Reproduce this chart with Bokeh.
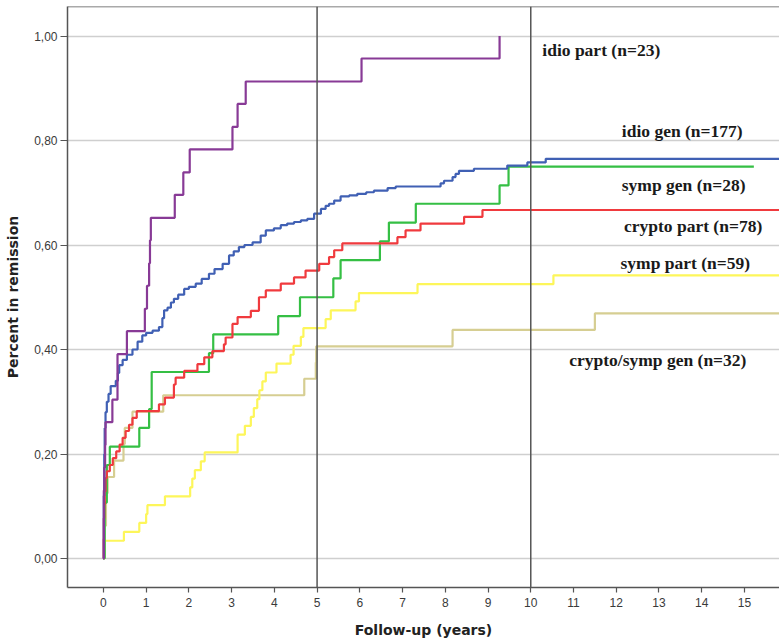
from bokeh.plotting import figure
from bokeh.models import (Range1d, FixedTicker, CustomJSTickFormatter, Span, Label)
from bokeh.embed import file_html
from bokeh.resources import INLINE

# ---------------- data (Kaplan-Meier style cumulative remission) ----------------
x_ticks = list(range(0, 16))
y_ticks = [0.0, 0.2, 0.4, 0.6, 0.8, 1.0]
x_end = 15.82

idio_part_t = [0, 0.01, 0.02, 0.04, 0.05, 0.21, 0.33, 0.55, 0.97, 1.02, 1.07, 1.09, 1.11,
               1.67, 1.87, 2.02, 3.02, 3.14, 3.33, 6.04, 9.27, 9.27]
idio_part_y = [0, 0.130, 0.174, 0.217, 0.261, 0.304, 0.391, 0.435, 0.478, 0.522, 0.565, 0.609, 0.652,
               0.696, 0.739, 0.783, 0.826, 0.870, 0.913, 0.957, 1.0, 1.0]

idio_gen_t = [0, 0.01, 0.02, 0.03, 0.05, 0.08, 0.12, 0.17, 0.29, 0.34, 0.37, 0.45, 0.55, 0.68,
              0.80, 0.91, 1.00, 1.15, 1.30, 1.38, 1.42, 1.50, 1.58, 1.65, 1.75, 1.89, 2.00,
              2.16, 2.30, 2.47, 2.60, 2.79, 2.94, 3.05, 3.17, 3.30, 3.49, 3.68, 3.80, 3.99,
              4.15, 4.30, 4.46, 4.62, 4.77, 4.93, 5.09, 5.20, 5.28, 5.40, 5.55, 5.75, 5.94,
              6.15, 6.33, 6.65, 6.84, 7.89, 7.97, 8.17, 8.24, 8.32, 8.67, 9.45, 9.92, 10.35, x_end]
idio_gen_y = [0, 0.12, 0.20, 0.25, 0.28, 0.30, 0.315, 0.33, 0.34, 0.355, 0.37, 0.38, 0.39, 0.40,
              0.415, 0.427, 0.432, 0.436, 0.443, 0.46, 0.475, 0.48, 0.49, 0.497, 0.505, 0.516, 0.52,
              0.526, 0.535, 0.545, 0.554, 0.564, 0.58, 0.588, 0.596, 0.60, 0.605, 0.618, 0.628, 0.632,
              0.638, 0.641, 0.644, 0.647, 0.65, 0.66, 0.669, 0.675, 0.679, 0.685, 0.693, 0.695, 0.698,
              0.701, 0.704, 0.709, 0.712, 0.718, 0.723, 0.730, 0.736, 0.742, 0.746, 0.752, 0.758, 0.765, 0.765]

symp_gen_t = [0, 0.03, 0.08, 0.15, 0.84, 1.07, 1.13, 2.47, 2.57, 4.09, 4.60, 5.38, 5.55,
              6.47, 6.68, 7.31, 9.27, 9.48, 15.22]
symp_gen_y = [0, 0.107, 0.179, 0.214, 0.25, 0.286, 0.357, 0.393, 0.429, 0.464, 0.50, 0.536, 0.571,
              0.607, 0.643, 0.679, 0.714, 0.75, 0.75]

crypto_part_t = [0, 0.005, 0.01, 0.02, 0.03, 0.05, 0.08, 0.15, 0.22, 0.30, 0.38, 0.45, 0.52,
                 0.60, 0.68, 0.78, 1.30, 1.44, 1.65, 1.69, 1.89, 2.20, 2.36, 2.55, 2.82, 2.86,
                 3.02, 3.14, 3.45, 3.64, 3.80, 4.15, 4.46, 4.73, 5.05, 5.28, 5.40, 5.59, 6.88,
                 7.07, 7.42, 8.44, 8.87, x_end]
crypto_part_y = [0, 0.038, 0.077, 0.103, 0.128, 0.154, 0.167, 0.179, 0.192, 0.205, 0.218, 0.231, 0.244,
                 0.256, 0.269, 0.282, 0.295, 0.308, 0.333, 0.346, 0.359, 0.372, 0.385, 0.397, 0.410, 0.423,
                 0.449, 0.462, 0.474, 0.500, 0.513, 0.526, 0.538, 0.551, 0.564, 0.577, 0.590, 0.603, 0.615,
                 0.628, 0.641, 0.654, 0.667, 0.667]

symp_part_t = [0, 0.02, 0.48, 0.84, 1.0, 1.03, 1.44, 2.03, 2.08, 2.14, 2.28, 2.37, 3.14, 3.31,
               3.45, 3.52, 3.60, 3.65, 3.72, 3.80, 4.05, 4.38, 4.45, 4.62, 4.68, 5.20, 5.32,
               5.90, 5.98, 7.35, 10.53, x_end]
symp_part_y = [0, 0.034, 0.051, 0.068, 0.085, 0.102, 0.119, 0.136, 0.153, 0.169, 0.186, 0.203, 0.237, 0.254,
               0.271, 0.288, 0.305, 0.322, 0.339, 0.356, 0.373, 0.390, 0.407, 0.424, 0.441, 0.458, 0.475,
               0.492, 0.508, 0.525, 0.542, 0.542]

crypto_symp_t = [0, 0.03, 0.06, 0.10, 0.25, 0.47, 0.50, 0.68, 1.40, 4.70, 4.97, 4.98, 8.17, 11.5, x_end]
crypto_symp_y = [0, 0.0625, 0.125, 0.156, 0.1875, 0.219, 0.25, 0.281, 0.3125, 0.344, 0.375, 0.406,
                 0.4375, 0.469, 0.469]

series = [
    ("crypto/symp gen (n=32)", crypto_symp_t, crypto_symp_y, "#d6ce92", 10.90, 0.380),
    ("symp part (n=59)", symp_part_t, symp_part_y, "#fdf65a", 12.10, 0.566),
    ("symp gen (n=28)", symp_gen_t, symp_gen_y, "#35bf44", 12.13, 0.714),
    ("crypto part (n=78)", crypto_part_t, crypto_part_y, "#f03a3e", 12.18, 0.637),
    ("idio gen (n=177)", idio_gen_t, idio_gen_y, "#4060b4", 12.13, 0.819),
    ("idio part (n=23)", idio_part_t, idio_part_y, "#883a96", 10.27, 0.9736),
]

# ---------------- figure ----------------
p = figure(width=779, height=643, output_backend="svg", toolbar_location=None,
           x_range=Range1d(-0.84, 15.82), y_range=Range1d(-0.0555, 1.0565),
           min_border_left=67, min_border_right=0, min_border_top=6, min_border_bottom=56)
p.outline_line_color = None
p.background_fill_color = "white"
p.border_fill_color = "white"

p.xgrid.grid_line_color = None
p.ygrid.grid_line_color = "#cfcfcf"
p.ygrid.grid_line_width = 1.5

for ax in (p.xaxis[0], p.yaxis[0]):
    ax.axis_line_color = "#555555"
    ax.axis_line_width = 1.5
    ax.major_tick_line_color = "#555555"
    ax.major_tick_line_width = 1.2
    ax.minor_tick_line_color = None
    ax.major_tick_in = 0
    ax.major_label_text_font = "Liberation Sans"
    ax.major_label_text_font_size = "12px"
    ax.major_label_text_color = "#3a3a3a"
    ax.axis_label_text_font = "DejaVu Sans"
    ax.axis_label_text_font_style = "bold"
    ax.axis_label_text_font_size = "14px"
    ax.axis_label_text_color = "#222222"

p.xaxis.ticker = FixedTicker(ticks=x_ticks)
p.xaxis.major_tick_out = 5
p.xaxis.major_label_standoff = 5
p.xaxis.axis_label = "Follow-up (years)"
p.xaxis.axis_label_standoff = 12

p.yaxis.ticker = FixedTicker(ticks=y_ticks)
p.yaxis.formatter = CustomJSTickFormatter(code="return tick.toFixed(2).replace('.', ',');")
p.yaxis.major_tick_out = 7
p.yaxis.major_label_standoff = 3
p.yaxis.axis_label = "Percent in remission"
p.yaxis.axis_label_standoff = 10

# frame top border and reference verticals
p.add_layout(Span(location=1.0565, dimension="width", line_color="#555555", line_width=1.5))
for v in (5, 10):
    p.add_layout(Span(location=v, dimension="height", line_color="#555555", line_width=1.5))

for name, t, y, col, lx, ly in series:
    p.step(t, y, mode="after", line_color=col, line_width=2.2)
    p.add_layout(Label(x=lx, y=ly, text=name, text_font="Liberation Serif",
                       text_font_style="bold", text_font_size="17.5px", text_color="#1a1a1a",
                       text_baseline="middle", text_align="left"))

open("out.html", "w").write(file_html(p, INLINE))
